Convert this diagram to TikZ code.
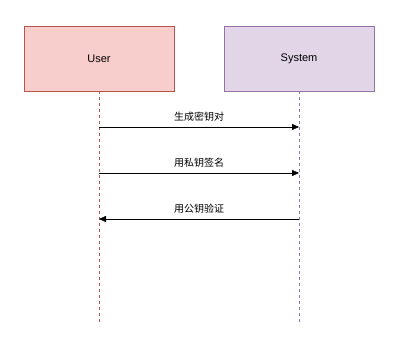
\documentclass[tikz,border=0pt]{standalone}
\usepackage{fontspec}
\setmainfont{Liberation Sans}
\newfontfamily\cjk{Noto Sans CJK SC}
\usetikzlibrary{arrows.meta}
\definecolor{userfill}{HTML}{F8CECC}
\definecolor{userline}{HTML}{B85450}
\definecolor{sysfill}{HTML}{E1D5E7}
\definecolor{sysline}{HTML}{9673A6}
\begin{document}
\begin{tikzpicture}[x=1pt, y=-1pt, >={Triangle[length=7pt,width=6pt]}, every node/.style={font=\fontsize{11pt}{13pt}\selectfont}]
    \useasboundingbox (0,0) rectangle (397,349);
    \node[draw=userline, fill=userfill, minimum width=150pt, minimum height=65pt, inner sep=0pt] (user) at (99,58.5) {User};
    \node[draw=sysline, fill=sysfill, minimum width=150pt, minimum height=65pt, inner sep=0pt] (sys) at (299,58.5) {System};
    \coordinate (userend) at (99,322);
    \coordinate (sysend) at (299,322);
    \draw[draw=userline, dash pattern=on 3pt off 3pt] (user.south) -- (userend);
    \draw[draw=sysline, dash pattern=on 3pt off 3pt] (sys.south) -- (sysend);
    \coordinate (u1) at (99,127); \coordinate (s1) at (299,127);
    \coordinate (u2) at (99,173); \coordinate (s2) at (299,173);
    \coordinate (u3) at (99,219); \coordinate (s3) at (299,219);
    \draw[->] (u1) -- node[above, yshift=2pt, font=\fontsize{10pt}{12pt}\selectfont] {\cjk 生成密钥对} (s1);
    \draw[->] (u2) -- node[above, yshift=2pt, font=\fontsize{10pt}{12pt}\selectfont] {\cjk 用私钥签名} (s2);
    \draw[->] (s3) -- node[above, yshift=2pt, font=\fontsize{10pt}{12pt}\selectfont] {\cjk 用公钥验证} (u3);
\end{tikzpicture}
\end{document}
